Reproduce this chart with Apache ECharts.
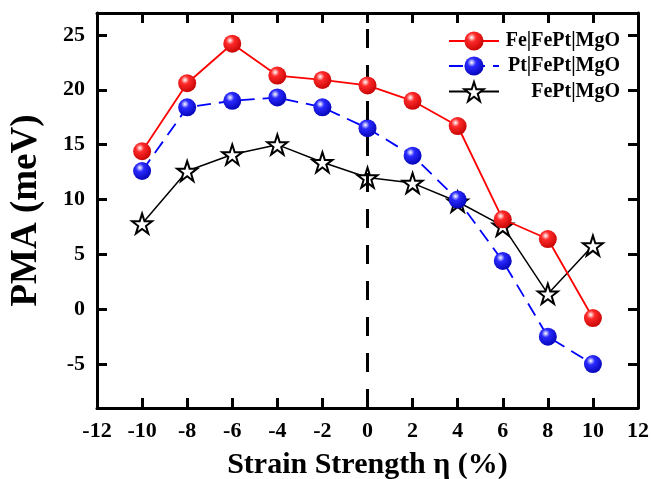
<!DOCTYPE html>
<html>
<head>
<meta charset="utf-8">
<script src="https://cdn.jsdelivr.net/npm/echarts@6/dist/echarts.min.js"></script>
<style>
  html, body { margin: 0; padding: 0; background: #fff; }
  #chart { width: 651px; height: 479px; }
</style>
</head>
<body>
<div id="chart"></div>
<script>
const strain = [-10, -8, -6, -4, -2, 0, 2, 4, 6, 8, 10];
const feFePtMgO = [14.4, 20.6, 24.2, 21.3, 20.9, 20.4, 19.0, 16.7, 8.2, 6.4, -0.8];
const ptFePtMgO = [12.6, 18.4, 19.0, 19.3, 18.4, 16.5, 14.0, 10.0, 4.4, -2.5, -5.0];
const fePtMgO = [7.8, 12.6, 14.1, 15.0, 13.4, 12.0, 11.5, 9.8, 7.6, 1.4, 5.8];
const yTicks = [-5, 0, 5, 10, 15, 20, 25];
const xTopTicks = [-10, -8, -6, -4, -2, 0, 2, 4, 6, 8, 10];

const serif = "Liberation Serif";
const starPath = "path://M50,2 L61.8,37.6 L99,37.6 L69,59.6 L80.4,95 L50,73 L19.6,95 L31,59.6 L1,37.6 L38.2,37.6 Z";

function ball(c1, c2) {
  return {
    type: "radial", x: 0.38, y: 0.32, r: 0.75,
    colorStops: [
      { offset: 0, color: "#ffffff" },
      { offset: 0.3, color: c1 },
      { offset: 1, color: c2 }
    ]
  };
}

function pairs(arr) {
  return strain.map((x, i) => [x, arr[i]]);
}

var myChart = echarts.init(document.getElementById("chart"));
myChart.setOption({
  animation: false,
  backgroundColor: "#fff",
  grid: { left: 97, right: 13, top: 13, bottom: 71, outerBoundsMode: "none" },
  legend: {
    right: 26, top: 26, orient: "vertical",
    itemWidth: 50, itemHeight: 24, itemGap: 5,
    formatter: name => "{r|" + name + "}",
    textStyle: {
      rich: { r: { fontFamily: serif, fontWeight: "bold", fontSize: 20, color: "#000", width: 116, align: "right" } }
    },
    data: ["Fe|FePt|MgO", "Pt|FePt|MgO", "FePt|MgO"]
  },
  xAxis: [
    {
      type: "value", min: -12, max: 12, interval: 2,
      name: "Strain Strength η (%)", nameLocation: "middle", nameGap: 42,
      nameTextStyle: { fontFamily: serif, fontWeight: "bold", fontSize: 30, color: "#000" },
      axisLine: { onZero: false, lineStyle: { color: "#000", width: 3 } },
      axisTick: { inside: true, length: 10, lineStyle: { color: "#000", width: 3 } },
      axisLabel: { fontFamily: serif, fontWeight: "bold", fontSize: 22, color: "#000", margin: 12 },
      splitLine: { show: false }
    },
    {
      type: "value", position: "top", min: -12, max: 12,
      axisLine: { onZero: false, lineStyle: { color: "#000", width: 3 } },
      axisTick: { inside: true, length: 10, customValues: xTopTicks, lineStyle: { color: "#000", width: 3 } },
      axisLabel: { show: false },
      splitLine: { show: false }
    }
  ],
  yAxis: [
    {
      type: "value", min: -9, max: 27,
      name: "PMA (meV)", nameLocation: "middle", nameGap: 52,
      nameTextStyle: { fontFamily: serif, fontWeight: "bold", fontSize: 37, color: "#000" },
      axisLine: { onZero: false, lineStyle: { color: "#000", width: 3 } },
      axisTick: { inside: true, length: 10, customValues: yTicks, lineStyle: { color: "#000", width: 3 } },
      axisLabel: { customValues: yTicks, fontFamily: serif, fontWeight: "bold", fontSize: 22, color: "#000", margin: 12 },
      splitLine: { show: false }
    },
    {
      type: "value", position: "right", min: -9, max: 27,
      axisLine: { onZero: false, lineStyle: { color: "#000", width: 3 } },
      axisTick: { inside: true, length: 10, customValues: yTicks, lineStyle: { color: "#000", width: 3 } },
      axisLabel: { show: false },
      splitLine: { show: false }
    }
  ],
  series: [
    {
      name: "FePt|MgO", type: "line", data: pairs(fePtMgO),
      symbol: starPath, symbolSize: 20, z: 3,
      itemStyle: { color: "#fff", borderColor: "#000", borderWidth: 2 },
      lineStyle: { color: "#000", width: 1.5 },
      markLine: {
        silent: true, symbol: "none", label: { show: false },
        lineStyle: { color: "#000", width: 3, type: [19, 17] },
        data: [{ xAxis: 0 }]
      }
    },
    {
      name: "Pt|FePt|MgO", type: "line", data: pairs(ptFePtMgO),
      symbol: "circle", symbolSize: 18, z: 4,
      itemStyle: { color: ball("#2a2aff", "#0000b0"), borderWidth: 0 },
      lineStyle: { color: "#0000ff", width: 1.8, type: [14, 8] }
    },
    {
      name: "Fe|FePt|MgO", type: "line", data: pairs(feFePtMgO),
      symbol: "circle", symbolSize: 18, z: 5,
      itemStyle: { color: ball("#ff2a2a", "#c00000"), borderWidth: 0 },
      lineStyle: { color: "#ff0000", width: 1.8 }
    }
  ]
});
</script>
</body>
</html>
